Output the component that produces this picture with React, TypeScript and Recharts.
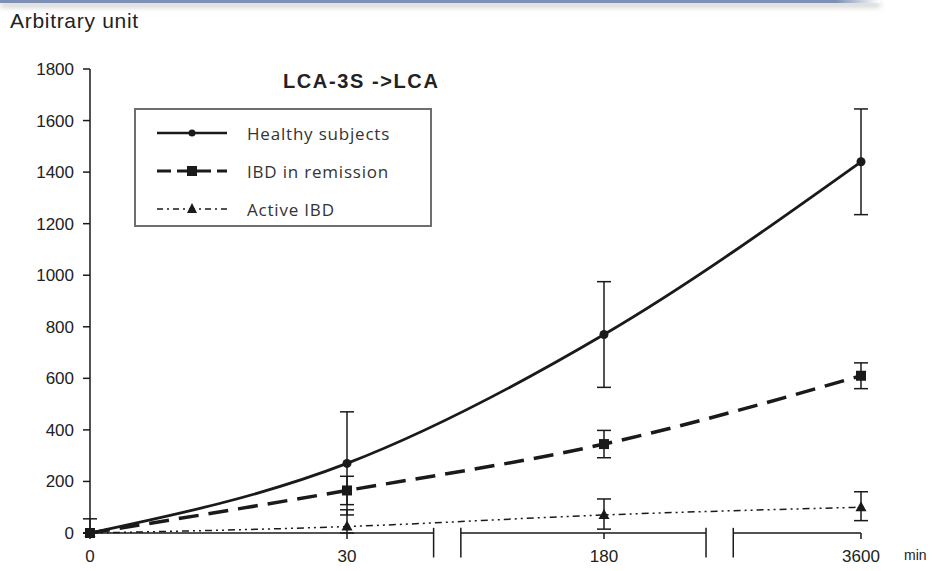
import React from "react";
import { ComposedChart, Line, XAxis, YAxis, ErrorBar, ReferenceLine } from "recharts";

// sampling times (min), drawn on an evenly spaced, broken axis
const times = ["0", "30", "180", "3600"];

const healthy = [0, 270, 770, 1440];
const healthyErr: [number, number][] = [[0, 55], [200, 200], [205, 205], [205, 205]];

const remission = [0, 165, 345, 610];
const remissionErr: [number, number][] = [[0, 0], [55, 55], [53, 53], [50, 50]];

const active = [0, 25, 70, 100];
const activeErr: [number, number][] = [[0, 0], [25, 65], [55, 62], [52, 60]];

const yTicks = [0, 200, 400, 600, 800, 1000, 1200, 1400, 1600, 1800];

// where the x axis is interrupted (in index units between categories)
const axisBreaks = [1.39, 2.45];
const breakGap = 0.053;

const data = times.map((t, i) => ({
  idx: i,
  healthy: healthy[i],
  healthyErr: healthyErr[i],
  remission: remission[i],
  remissionErr: remissionErr[i],
  active: active[i],
  activeErr: activeErr[i],
}));

const INK = "#1a1a1a";
const FONT = "'Liberation Sans', Arial, sans-serif";

const Circle = (p: any) => <circle key={p.index} cx={p.cx} cy={p.cy} r={4.5} fill={INK} />;
const Square = (p: any) => <rect key={p.index} x={p.cx - 5} y={p.cy - 5} width={10} height={10} fill={INK} />;
const Triangle = (p: any) => (
  <path key={p.index} d={`M${p.cx},${p.cy - 6} L${p.cx + 5.5},${p.cy + 4} L${p.cx - 5.5},${p.cy + 4} Z`} fill={INK} />
);

const legendItems = [
  { label: "Healthy subjects", dash: undefined, width: 2.5, marker: "circle" },
  { label: "IBD in remission", dash: "14 6", width: 3, marker: "square" },
  { label: "Active IBD", dash: "6 4 2 4", width: 1.5, marker: "triangle" },
];

function LegendBox() {
  return (
    <div
      style={{
        position: "absolute",
        left: 134,
        top: 108,
        border: "2px solid #6e6e6e",
        width: 294,
        height: 111,
        background: "#fff",
        paddingTop: 4,
      }}
    >
      {legendItems.map((it) => (
        <div key={it.label} style={{ display: "flex", alignItems: "center", height: 38 }}>
          <svg width={92} height={20} style={{ marginLeft: 19 }}>
            <line x1={2} y1={10} x2={72} y2={10} stroke={INK} strokeWidth={it.width} strokeDasharray={it.dash} />
            {it.marker === "circle" && <circle cx={37} cy={10} r={3.5} fill={INK} />}
            {it.marker === "square" && <rect x={32} y={5} width={10} height={10} fill={INK} />}
            {it.marker === "triangle" && <path d="M37,4 L42,14 L32,14 Z" fill={INK} />}
          </svg>
          <span style={{ fontFamily: "'Open Sans', sans-serif", fontSize: 17, color: "#333", letterSpacing: 0.8 }}>
            {it.label}
          </span>
        </div>
      ))}
    </div>
  );
}

export default function App() {
  return (
    <div style={{ position: "absolute", left: 0, top: 0, width: 933, height: 571, background: "#fff", overflow: "hidden" }}>
      {/* header strip */}
      <div
        style={{
          position: "absolute",
          left: 0,
          top: 0,
          width: 880,
          height: 3,
          background: "linear-gradient(to right, #7d90b3 95%, rgba(125,144,179,0))",
          boxShadow: "0 3px 6px rgba(0,0,0,0.35)",
        }}
      />
      <div style={{ position: "absolute", left: 10, top: 9, fontFamily: FONT, fontSize: 21, color: "#222", letterSpacing: 0.7 }}>
        Arbitrary unit
      </div>
      <div
        style={{ position: "absolute", left: 283, top: 70, fontFamily: FONT, fontSize: 20, fontWeight: 700, color: "#222", letterSpacing: 1.6 }}
      >
        LCA-3S -&gt;LCA
      </div>
      <div style={{ position: "absolute", left: 904, top: 547, fontFamily: FONT, fontSize: 14, color: "#222" }}>min</div>

      <ComposedChart width={933} height={571} data={data} margin={{ top: 69, right: 72, left: 30, bottom: 4 }}>
        <XAxis
          dataKey="idx"
          type="number"
          domain={[0, 3]}
          ticks={[0, 1, 2, 3]}
          tickFormatter={(v: number) => times[v]}
          axisLine={false}
          tickLine={{ stroke: INK, strokeWidth: 1.5 }}
          tickSize={6}
          tickMargin={11}
          height={34}
          tick={{ fill: "#222", fontSize: 17, fontFamily: FONT }}
        />
        <YAxis
          domain={[0, 1800]}
          ticks={yTicks}
          width={60}
          axisLine={{ stroke: INK, strokeWidth: 1.5 }}
          tickLine={{ stroke: INK, strokeWidth: 1.5 }}
          tickSize={7}
          tickMargin={9}
          tick={{ fill: "#222", fontSize: 17, fontFamily: FONT }}
        />

        {/* broken x axis: baseline pieces and the break ticks */}
        <ReferenceLine segment={[{ x: 0, y: 0 }, { x: axisBreaks[0] - breakGap, y: 0 }]} stroke={INK} strokeWidth={1.5} ifOverflow="visible" />
        <ReferenceLine segment={[{ x: axisBreaks[0] + breakGap, y: 0 }, { x: axisBreaks[1] - breakGap, y: 0 }]} stroke={INK} strokeWidth={1.5} ifOverflow="visible" />
        <ReferenceLine segment={[{ x: axisBreaks[1] + breakGap, y: 0 }, { x: 3, y: 0 }]} stroke={INK} strokeWidth={1.5} ifOverflow="visible" />
        {axisBreaks.flatMap((b) => [b - breakGap, b + breakGap]).map((x) => (
          <ReferenceLine key={x} segment={[{ x, y: 20 }, { x, y: -95 }]} stroke={INK} strokeWidth={1.5} ifOverflow="visible" />
        ))}

        <Line
          dataKey="active"
          type="monotone"
          stroke={INK}
          strokeWidth={1.5}
          strokeDasharray="7 4 2 4 2 4"
          dot={Triangle}
          isAnimationActive={false}
        >
          <ErrorBar dataKey="activeErr" width={7} stroke={INK} strokeWidth={1.5} direction="y" />
        </Line>
        <Line
          dataKey="remission"
          type="monotone"
          stroke={INK}
          strokeWidth={3.5}
          strokeDasharray="20 10"
          dot={Square}
          isAnimationActive={false}
        >
          <ErrorBar dataKey="remissionErr" width={7} stroke={INK} strokeWidth={1.5} direction="y" />
        </Line>
        <Line dataKey="healthy" type="monotone" stroke={INK} strokeWidth={2.8} dot={Circle} isAnimationActive={false}>
          <ErrorBar dataKey="healthyErr" width={7} stroke={INK} strokeWidth={1.5} direction="y" />
        </Line>
      </ComposedChart>
      <LegendBox />
    </div>
  );
}
